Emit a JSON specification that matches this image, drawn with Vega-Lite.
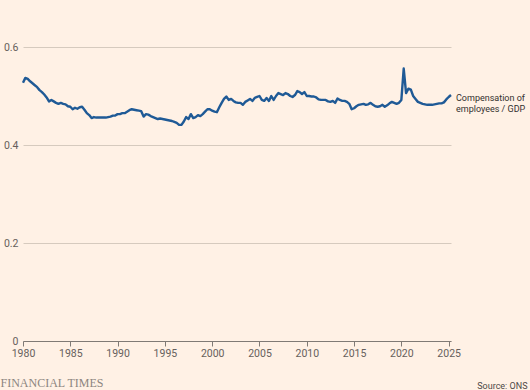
{
  "$schema": "https://vega.github.io/schema/vega-lite/v6.json",
  "width": 428,
  "height": 294,
  "autosize": "none",
  "padding": {"left": 23, "top": 47, "right": 79, "bottom": 49},
  "background": "#FFF1E5",
  "config": {"view": {"stroke": null}, "font": "Roboto"},
  "layer": [
    {
      "data": {"values": [
        {"d":"1980-01-01","v":0.527},{"d":"1980-04-01","v":0.537},{"d":"1980-07-01","v":0.535},{"d":"1980-10-01","v":0.530},
        {"d":"1981-01-01","v":0.526},{"d":"1981-04-01","v":0.522},{"d":"1981-07-01","v":0.518},{"d":"1981-10-01","v":0.512},
        {"d":"1982-01-01","v":0.508},{"d":"1982-04-01","v":0.503},{"d":"1982-07-01","v":0.497},{"d":"1982-10-01","v":0.489},
        {"d":"1983-01-01","v":0.492},{"d":"1983-04-01","v":0.489},{"d":"1983-07-01","v":0.486},{"d":"1983-10-01","v":0.484},
        {"d":"1984-01-01","v":0.486},{"d":"1984-04-01","v":0.484},{"d":"1984-07-01","v":0.483},{"d":"1984-10-01","v":0.479},
        {"d":"1985-01-01","v":0.478},{"d":"1985-04-01","v":0.473},{"d":"1985-07-01","v":0.476},{"d":"1985-10-01","v":0.474},
        {"d":"1986-01-01","v":0.477},{"d":"1986-04-01","v":0.478},{"d":"1986-07-01","v":0.472},{"d":"1986-10-01","v":0.465},
        {"d":"1987-01-01","v":0.461},{"d":"1987-04-01","v":0.455},{"d":"1987-07-01","v":0.457},{"d":"1987-10-01","v":0.456},
        {"d":"1988-01-01","v":0.456},{"d":"1988-04-01","v":0.456},{"d":"1988-07-01","v":0.456},{"d":"1988-10-01","v":0.456},
        {"d":"1989-01-01","v":0.457},{"d":"1989-04-01","v":0.458},{"d":"1989-07-01","v":0.460},{"d":"1989-10-01","v":0.460},
        {"d":"1990-01-01","v":0.463},{"d":"1990-04-01","v":0.463},{"d":"1990-07-01","v":0.465},{"d":"1990-10-01","v":0.465},
        {"d":"1991-01-01","v":0.468},{"d":"1991-04-01","v":0.471},{"d":"1991-07-01","v":0.473},{"d":"1991-10-01","v":0.472},
        {"d":"1992-01-01","v":0.471},{"d":"1992-04-01","v":0.470},{"d":"1992-07-01","v":0.469},{"d":"1992-10-01","v":0.458},
        {"d":"1993-01-01","v":0.463},{"d":"1993-04-01","v":0.462},{"d":"1993-07-01","v":0.459},{"d":"1993-10-01","v":0.457},
        {"d":"1994-01-01","v":0.455},{"d":"1994-04-01","v":0.453},{"d":"1994-07-01","v":0.454},{"d":"1994-10-01","v":0.453},
        {"d":"1995-01-01","v":0.452},{"d":"1995-04-01","v":0.451},{"d":"1995-07-01","v":0.450},{"d":"1995-10-01","v":0.449},
        {"d":"1996-01-01","v":0.447},{"d":"1996-04-01","v":0.445},{"d":"1996-07-01","v":0.441},{"d":"1996-10-01","v":0.441},
        {"d":"1997-01-01","v":0.448},{"d":"1997-04-01","v":0.457},{"d":"1997-07-01","v":0.453},{"d":"1997-10-01","v":0.463},
        {"d":"1998-01-01","v":0.455},{"d":"1998-04-01","v":0.457},{"d":"1998-07-01","v":0.461},{"d":"1998-10-01","v":0.459},
        {"d":"1999-01-01","v":0.463},{"d":"1999-04-01","v":0.468},{"d":"1999-07-01","v":0.473},{"d":"1999-10-01","v":0.473},
        {"d":"2000-01-01","v":0.470},{"d":"2000-04-01","v":0.468},{"d":"2000-07-01","v":0.467},{"d":"2000-10-01","v":0.477},
        {"d":"2001-01-01","v":0.486},{"d":"2001-04-01","v":0.494},{"d":"2001-07-01","v":0.499},{"d":"2001-10-01","v":0.492},
        {"d":"2002-01-01","v":0.494},{"d":"2002-04-01","v":0.490},{"d":"2002-07-01","v":0.487},{"d":"2002-10-01","v":0.486},
        {"d":"2003-01-01","v":0.486},{"d":"2003-04-01","v":0.482},{"d":"2003-07-01","v":0.488},{"d":"2003-10-01","v":0.491},
        {"d":"2004-01-01","v":0.494},{"d":"2004-04-01","v":0.490},{"d":"2004-07-01","v":0.496},{"d":"2004-10-01","v":0.498},
        {"d":"2005-01-01","v":0.500},{"d":"2005-04-01","v":0.492},{"d":"2005-07-01","v":0.490},{"d":"2005-10-01","v":0.496},
        {"d":"2006-01-01","v":0.490},{"d":"2006-04-01","v":0.500},{"d":"2006-07-01","v":0.492},{"d":"2006-10-01","v":0.500},
        {"d":"2007-01-01","v":0.506},{"d":"2007-04-01","v":0.504},{"d":"2007-07-01","v":0.502},{"d":"2007-10-01","v":0.506},
        {"d":"2008-01-01","v":0.504},{"d":"2008-04-01","v":0.500},{"d":"2008-07-01","v":0.498},{"d":"2008-10-01","v":0.502},
        {"d":"2009-01-01","v":0.510},{"d":"2009-04-01","v":0.508},{"d":"2009-07-01","v":0.504},{"d":"2009-10-01","v":0.508},
        {"d":"2010-01-01","v":0.500},{"d":"2010-04-01","v":0.500},{"d":"2010-07-01","v":0.499},{"d":"2010-10-01","v":0.499},
        {"d":"2011-01-01","v":0.497},{"d":"2011-04-01","v":0.493},{"d":"2011-07-01","v":0.492},{"d":"2011-10-01","v":0.492},
        {"d":"2012-01-01","v":0.492},{"d":"2012-04-01","v":0.489},{"d":"2012-07-01","v":0.488},{"d":"2012-10-01","v":0.490},
        {"d":"2013-01-01","v":0.486},{"d":"2013-04-01","v":0.495},{"d":"2013-07-01","v":0.492},{"d":"2013-10-01","v":0.490},
        {"d":"2014-01-01","v":0.490},{"d":"2014-04-01","v":0.488},{"d":"2014-07-01","v":0.484},{"d":"2014-10-01","v":0.473},
        {"d":"2015-01-01","v":0.475},{"d":"2015-04-01","v":0.479},{"d":"2015-07-01","v":0.482},{"d":"2015-10-01","v":0.483},
        {"d":"2016-01-01","v":0.484},{"d":"2016-04-01","v":0.482},{"d":"2016-07-01","v":0.483},{"d":"2016-10-01","v":0.486},
        {"d":"2017-01-01","v":0.482},{"d":"2017-04-01","v":0.479},{"d":"2017-07-01","v":0.478},{"d":"2017-10-01","v":0.479},
        {"d":"2018-01-01","v":0.482},{"d":"2018-04-01","v":0.478},{"d":"2018-07-01","v":0.481},{"d":"2018-10-01","v":0.485},
        {"d":"2019-01-01","v":0.488},{"d":"2019-04-01","v":0.486},{"d":"2019-07-01","v":0.484},{"d":"2019-10-01","v":0.486},
        {"d":"2020-01-01","v":0.492},{"d":"2020-04-01","v":0.556},{"d":"2020-07-01","v":0.506},{"d":"2020-10-01","v":0.515},
        {"d":"2021-01-01","v":0.513},{"d":"2021-04-01","v":0.500},{"d":"2021-07-01","v":0.494},{"d":"2021-10-01","v":0.488},
        {"d":"2022-01-01","v":0.486},{"d":"2022-04-01","v":0.484},{"d":"2022-07-01","v":0.483},{"d":"2022-10-01","v":0.482},
        {"d":"2023-01-01","v":0.482},{"d":"2023-04-01","v":0.482},{"d":"2023-07-01","v":0.483},{"d":"2023-10-01","v":0.484},
        {"d":"2024-01-01","v":0.485},{"d":"2024-04-01","v":0.485},{"d":"2024-07-01","v":0.487},{"d":"2024-10-01","v":0.493},
        {"d":"2025-01-01","v":0.498},{"d":"2025-04-01","v":0.502}
      ]},
      "mark": {"type": "line", "color": "#1f5a96", "strokeWidth": 2.4, "strokeJoin": "round"},
      "encoding": {
        "x": {
          "field": "d", "type": "temporal",
          "scale": {"type": "utc", "domain": [{"year": 1980, "month": 1, "date": 1, "utc": true}, {"year": 2025, "month": 4, "date": 1, "utc": true}]},
          "axis": {
            "values": [{"year": 1980, "utc": true}, {"year": 1985, "utc": true}, {"year": 1990, "utc": true}, {"year": 1995, "utc": true}, {"year": 2000, "utc": true}, {"year": 2005, "utc": true}, {"year": 2010, "utc": true}, {"year": 2015, "utc": true}, {"year": 2020, "utc": true}, {"year": 2025, "utc": true}],
            "format": "%Y", "formatType": "utc",
            "grid": false, "domainColor": "#807a75", "tickColor": "#807a75", "tickSize": 5,
            "labelColor": "#66605c", "labelFontSize": 10.5, "labelPadding": 2, "labelFlush": false, "labelOverlap": false,
            "zindex": 1,
            "title": "Source: ONS", "titleX": 504, "titleY": 44, "titleAlign": "right", "titleBaseline": "middle", "titleAngle": 0,
            "titleFontSize": 9, "titleFontWeight": "normal", "titleColor": "#4d4845"
          }
        },
        "y": {
          "field": "v", "type": "quantitative",
          "scale": {"domain": [0, 0.6]},
          "axis": {
            "values": [0, 0.2, 0.4, 0.6],
            "labelExpr": "datum.value == 0 ? '0' : format(datum.value, '.1f')",
            "domain": false, "ticks": false, "grid": true, "gridColor": "#d6cabe",
            "labelColor": "#66605c", "labelFontSize": 10.5, "labelPadding": 5,
            "title": "FINANCIAL TIMES", "titleAngle": 0, "titleX": -23, "titleY": 335, "titleAlign": "left", "titleBaseline": "middle",
            "titleFont": "Liberation Serif", "titleFontSize": 12, "titleFontWeight": "normal", "titleColor": "#8c8580"
          }
        }
      }
    },
    {
      "data": {"values": [{"d": "2025-04-01", "v": 0.502, "label": "Compensation of\nemployees / GDP"}]},
      "mark": {"type": "text", "align": "left", "baseline": "middle", "dx": 5, "dy": 3, "fontSize": 9, "lineBreak": "\n", "lineHeight": 10.5, "color": "#33302e"},
      "encoding": {
        "x": {"field": "d", "type": "temporal"},
        "y": {"field": "v", "type": "quantitative"},
        "text": {"field": "label"}
      }
    }
  ]
}
